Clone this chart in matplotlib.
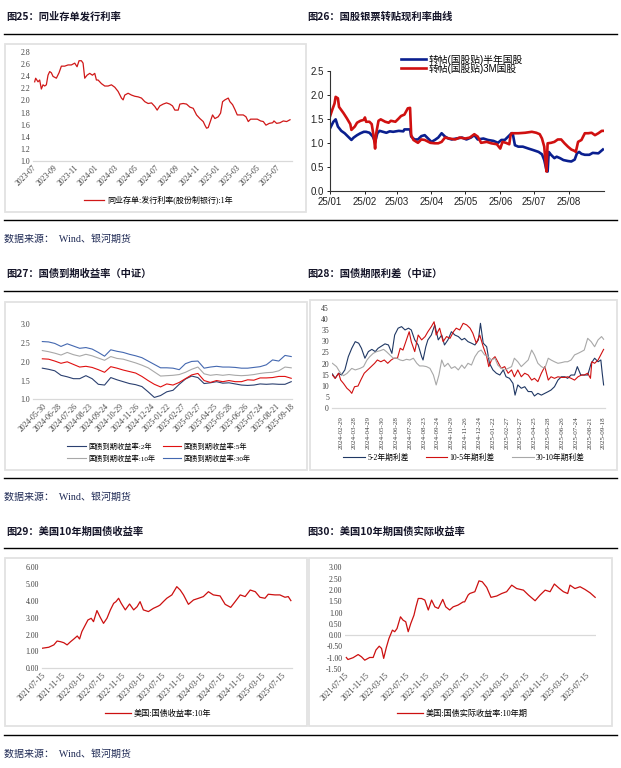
import numpy as np
import pandas as pd
import matplotlib
matplotlib.use('Agg')
import matplotlib.pyplot as plt
from matplotlib.lines import Line2D
from matplotlib.patches import Rectangle
import matplotlib.dates as mdates

W, H = 621, 768
CJK = 'Noto Sans CJK SC'
SERIF = ['Liberation Serif', CJK]
SANS = ['Liberation Sans', CJK]
plt.rcParams['font.family'] = SERIF

# ---- 图25 同业存单发行利率 (股份制银行 1年)
ncd_rate = [
    ('2023-07-06', 2.31), ('2023-07-09', 2.37), ('2023-07-16', 2.31), ('2023-07-21', 2.34),
    ('2023-07-26', 2.19), ('2023-07-31', 2.26), ('2023-08-05', 2.24), ('2023-08-10', 2.26),
    ('2023-08-15', 2.42), ('2023-08-20', 2.48), ('2023-08-25', 2.46), ('2023-08-30', 2.40),
    ('2023-09-09', 2.37), ('2023-09-17', 2.46), ('2023-09-24', 2.57), ('2023-10-04', 2.57),
    ('2023-10-14', 2.59), ('2023-10-24', 2.59), ('2023-11-03', 2.62), ('2023-11-10', 2.56),
    ('2023-11-16', 2.66), ('2023-11-23', 2.66), ('2023-11-28', 2.62), ('2023-12-03', 2.37),
    ('2023-12-10', 2.42), ('2023-12-18', 2.45), ('2023-12-26', 2.42), ('2024-01-02', 2.45),
    ('2024-01-07', 2.34), ('2024-01-12', 2.34), ('2024-01-22', 2.28), ('2024-02-01', 2.24),
    ('2024-02-11', 2.24), ('2024-02-21', 2.26), ('2024-03-02', 2.22), ('2024-03-12', 2.15),
    ('2024-03-22', 2.04), ('2024-03-27', 2.01), ('2024-04-01', 2.09), ('2024-04-11', 2.12),
    ('2024-04-21', 2.09), ('2024-05-01', 2.07), ('2024-05-11', 2.06), ('2024-05-21', 2.04),
    ('2024-05-31', 1.98), ('2024-06-10', 1.95), ('2024-06-20', 1.96), ('2024-06-30', 1.90),
    ('2024-07-07', 1.84), ('2024-07-15', 1.91), ('2024-07-25', 1.94), ('2024-08-04', 1.96),
    ('2024-08-14', 1.94), ('2024-08-22', 1.91), ('2024-08-29', 1.84), ('2024-09-08', 1.84),
    ('2024-09-13', 1.94), ('2024-09-23', 1.95), ('2024-10-03', 1.94), ('2024-10-13', 1.89),
    ('2024-10-23', 1.87), ('2024-11-02', 1.76), ('2024-11-12', 1.70), ('2024-11-22', 1.65),
    ('2024-11-27', 1.59), ('2024-12-02', 1.54), ('2024-12-07', 1.55), ('2024-12-12', 1.63),
    ('2024-12-20', 1.76), ('2024-12-27', 1.70), ('2025-01-06', 1.73), ('2025-01-13', 1.79),
    ('2025-01-19', 1.98), ('2025-01-26', 2.01), ('2025-02-05', 2.04), ('2025-02-10', 1.98),
    ('2025-02-18', 1.93), ('2025-02-25', 1.85), ('2025-03-04', 1.76), ('2025-03-12', 1.76),
    ('2025-03-22', 1.76), ('2025-03-30', 1.73), ('2025-04-06', 1.65), ('2025-04-13', 1.69),
    ('2025-04-23', 1.69), ('2025-05-03', 1.69), ('2025-05-13', 1.66), ('2025-05-21', 1.65),
    ('2025-05-29', 1.59), ('2025-06-08', 1.62), ('2025-06-18', 1.63), ('2025-06-22', 1.66),
    ('2025-06-30', 1.62), ('2025-07-10', 1.63), ('2025-07-20', 1.66), ('2025-07-30', 1.65),
    ('2025-08-09', 1.68)]

# ---- 图26 国股银票转贴现利率 (days since 2025-01-01)
disc_6m = [
    (0, 1.30), (3, 1.44), (5, 1.49), (7, 1.34), (10, 1.25), (13, 1.20), (16, 1.13), (19, 1.06),
    (21, 1.11), (24, 1.16), (27, 1.20), (30, 1.23), (32, 1.23), (35, 1.21), (38, 1.13), (40, 1.02),
    (42, 1.20), (44, 1.25), (47, 1.23), (50, 1.21), (53, 1.24), (56, 1.23), (61, 1.25), (65, 1.24),
    (66, 1.28), (71, 1.28), (72, 1.13), (75, 1.07), (78, 1.07), (81, 1.14), (84, 1.16), (87, 1.09),
    (90, 1.02), (93, 1.06), (96, 1.11), (99, 1.20), (102, 1.13), (105, 1.09), (108, 1.07), (112, 1.09),
    (117, 1.11), (121, 1.07), (125, 1.11), (128, 1.16), (131, 1.07), (136, 1.09), (140, 1.06),
    (145, 1.04), (149, 1.00), (152, 1.06), (155, 1.06), (158, 1.13), (161, 1.20), (162, 1.20),
    (164, 0.95), (167, 0.92), (171, 0.92), (176, 0.88), (180, 0.85), (185, 0.81), (188, 0.76),
    (190, 0.64), (192, 0.43), (193, 0.40), (194, 0.81), (196, 0.75), (199, 0.68), (201, 0.71),
    (204, 0.68), (207, 0.64), (211, 0.62), (214, 0.61), (217, 0.65), (219, 0.78), (221, 0.81),
    (223, 0.77), (226, 0.75), (230, 0.75), (233, 0.79), (238, 0.78), (242, 0.86)]
disc_3m = [
    (0, 1.55), (2, 1.69), (4, 1.82), (5, 1.96), (7, 1.93), (8, 1.75), (12, 1.62), (15, 1.51),
    (18, 1.39), (19, 1.27), (22, 1.34), (24, 1.42), (27, 1.46), (30, 1.48), (31, 1.53), (32, 1.44),
    (35, 1.44), (37, 1.39), (39, 1.09), (40, 0.88), (41, 1.20), (43, 1.46), (45, 1.49), (49, 1.44),
    (52, 1.42), (54, 1.46), (58, 1.44), (61, 1.51), (63, 1.56), (66, 1.59), (69, 1.72), (71, 1.73),
    (72, 1.16), (74, 1.06), (78, 1.00), (81, 1.07), (84, 1.06), (89, 1.00), (93, 0.99), (96, 0.99),
    (99, 1.02), (102, 1.11), (106, 1.09), (111, 1.07), (115, 1.11), (120, 1.09), (124, 1.11),
    (128, 1.18), (131, 1.13), (134, 1.00), (139, 1.02), (143, 0.99), (148, 0.97), (151, 0.88),
    (153, 1.02), (156, 1.00), (159, 0.97), (160, 1.14), (161, 1.20), (167, 1.20), (173, 1.21),
    (179, 1.23), (183, 1.21), (186, 1.18), (188, 1.09), (190, 0.92), (191, 0.64), (192, 0.40),
    (193, 0.99), (196, 1.00), (199, 1.02), (202, 1.07), (205, 1.07), (208, 0.99), (211, 0.92),
    (214, 0.86), (217, 0.83), (218, 0.81), (220, 1.02), (223, 1.06), (226, 1.20), (229, 1.20),
    (232, 1.21), (235, 1.16), (238, 1.20), (241, 1.25), (242, 1.25)]

# ---- 图27 国债到期收益率 (中证), every 8 trading days from 2024-05-30
ytm_2y = [1.83, 1.80, 1.76, 1.64, 1.60, 1.55, 1.55, 1.63, 1.55, 1.40, 1.38, 1.58, 1.52, 1.47,
          1.42, 1.39, 1.34, 1.20, 1.05, 1.10, 1.20, 1.24, 1.40, 1.54, 1.62, 1.58, 1.42, 1.44,
          1.47, 1.43, 1.44, 1.41, 1.38, 1.37, 1.38, 1.41, 1.40, 1.41, 1.40, 1.40, 1.47]
ytm_5y = [2.08, 2.07, 2.02, 1.96, 2.00, 1.93, 1.86, 1.88, 1.85, 1.79, 1.72, 1.87, 1.83, 1.78,
          1.74, 1.70, 1.61, 1.50, 1.40, 1.33, 1.41, 1.38, 1.45, 1.55, 1.65, 1.69, 1.50, 1.45,
          1.50, 1.47, 1.50, 1.47, 1.47, 1.52, 1.51, 1.57, 1.57, 1.58, 1.61, 1.61, 1.56]
ytm_10y = [2.30, 2.27, 2.23, 2.18, 2.25, 2.19, 2.15, 2.20, 2.16, 2.10, 2.04, 2.14, 2.09, 2.07,
           2.02, 1.97, 1.91, 1.84, 1.73, 1.62, 1.63, 1.64, 1.66, 1.72, 1.80, 1.86, 1.68, 1.64,
           1.66, 1.64, 1.66, 1.64, 1.63, 1.64, 1.66, 1.69, 1.71, 1.72, 1.76, 1.86, 1.84]
ytm_30y = [2.54, 2.53, 2.49, 2.41, 2.48, 2.42, 2.36, 2.38, 2.34, 2.25, 2.15, 2.32, 2.28, 2.25,
           2.20, 2.16, 2.11, 2.02, 1.93, 1.84, 1.84, 1.83, 1.79, 1.95, 2.01, 2.02, 1.83, 1.86,
           1.88, 1.86, 1.86, 1.85, 1.83, 1.83, 1.85, 1.87, 1.92, 2.05, 2.02, 2.17, 2.14]
ytm_labels = ['2024-05-30', '2024-06-28', '2024-07-26', '2024-08-23', '2024-09-24', '2024-10-29',
              '2024-11-26', '2024-12-24', '2025-01-22', '2025-02-27', '2025-03-27', '2025-04-25',
              '2025-05-28', '2025-06-26', '2025-07-24', '2025-08-21', '2025-09-18']

# ---- 图28 国债期限利差 (中证), (trading-day index, bp)
spread_52 = [
    (0, 15.3), (4, 13.3), (9, 15.6), (13, 14.8), (18, 17.1), (23, 23.1), (28, 26.9), (33, 29.9),
    (38, 29.2), (42, 26.9), (47, 22.4), (52, 25.4), (57, 26.4), (62, 25.4), (66, 26.9), (71, 27.9),
    (76, 28.9), (81, 28.4), (86, 24.6), (90, 32.9), (95, 36.0), (100, 36.7), (105, 35.2), (110, 36.0),
    (114, 35.2), (119, 30.7), (124, 28.4), (129, 23.1), (131, 21.6), (135, 27.6), (138, 30.7),
    (143, 32.9), (148, 37.5), (153, 30.7), (158, 32.9), (162, 28.4), (167, 30.7), (172, 34.4),
    (177, 32.9), (182, 32.2), (187, 30.7), (191, 31.4), (196, 29.9), (201, 29.2), (206, 28.4),
    (211, 30.7), (214, 38.2), (218, 29.2), (223, 27.6), (227, 20.1), (232, 17.1), (237, 15.6),
    (242, 14.8), (247, 17.1), (251, 14.0), (256, 13.3), (261, 11.0), (264, 5.7), (268, 10.3),
    (273, 8.8), (278, 9.5), (283, 7.3), (288, 7.3), (292, 5.3), (297, 6.5), (302, 5.7), (307, 6.5),
    (312, 7.3), (316, 8.0), (321, 9.5), (326, 12.5), (331, 14.0), (336, 14.0), (340, 13.3),
    (345, 14.8), (350, 14.8), (354, 18.6), (359, 14.8), (364, 14.8), (369, 14.8), (374, 20.1),
    (379, 22.4), (384, 20.8), (388, 21.6), (390, 15.6), (392, 10.3)]
spread_105 = [
    (0, 14.8), (4, 13.3), (9, 15.6), (12, 12.5), (16, 11.0), (21, 8.8), (25, 7.7), (28, 6.5),
    (32, 9.5), (37, 9.8), (41, 12.5), (46, 15.6), (51, 17.1), (56, 18.6), (61, 20.1), (65, 21.6),
    (70, 20.8), (75, 21.6), (80, 20.1), (85, 21.6), (89, 22.4), (94, 22.4), (98, 26.9), (102, 26.1),
    (107, 30.7), (111, 34.4), (114, 29.9), (119, 25.4), (124, 32.9), (129, 30.7), (134, 32.2),
    (138, 34.4), (143, 36.7), (147, 38.9), (150, 32.9), (155, 36.0), (160, 29.9), (165, 32.2),
    (170, 31.4), (175, 34.4), (179, 36.0), (184, 35.2), (189, 38.2), (194, 37.5), (199, 36.0),
    (203, 33.7), (208, 29.2), (213, 32.9), (218, 27.6), (223, 23.1), (226, 18.6), (230, 21.6),
    (235, 23.1), (239, 20.8), (244, 17.8), (249, 18.6), (254, 15.6), (259, 17.1), (263, 14.0),
    (268, 17.1), (273, 14.0), (278, 15.6), (283, 14.8), (288, 12.5), (292, 13.3), (297, 11.8),
    (302, 15.6), (307, 18.6), (312, 12.5), (316, 14.0), (321, 13.3), (326, 14.0), (331, 13.7),
    (336, 13.7), (340, 14.0), (345, 13.3), (350, 12.5), (355, 14.0), (360, 14.8), (364, 14.8),
    (369, 15.6), (373, 13.3), (375, 20.8), (379, 20.1), (384, 21.6), (389, 24.6), (392, 26.4)]
spread_3010 = [
    (0, 20.1), (6, 18.6), (11, 16.0), (16, 14.5), (21, 15.5), (28, 17.8), (33, 17.1), (40, 17.8),
    (45, 18.6), (50, 21.6), (54, 23.1), (59, 24.6), (64, 25.4), (69, 25.8), (74, 26.4), (78, 25.4),
    (83, 23.9), (88, 22.4), (93, 22.4), (98, 21.6), (102, 21.3), (107, 21.9), (112, 21.6),
    (117, 22.4), (122, 20.1), (126, 18.9), (131, 18.9), (136, 18.6), (141, 17.8), (146, 14.8),
    (150, 10.3), (154, 14.8), (158, 21.6), (162, 18.6), (167, 20.1), (172, 17.8), (177, 18.6),
    (182, 17.1), (187, 19.3), (191, 17.8), (196, 20.1), (201, 19.3), (206, 23.1), (211, 25.4),
    (215, 26.1), (220, 23.9), (225, 23.1), (230, 21.6), (235, 22.4), (239, 19.3), (244, 17.8),
    (249, 17.1), (254, 17.8), (259, 18.6), (263, 22.4), (268, 20.8), (273, 18.6), (278, 20.1),
    (283, 21.6), (288, 26.1), (292, 23.9), (297, 20.1), (302, 18.6), (307, 17.8), (312, 22.4),
    (316, 21.6), (321, 20.8), (326, 20.1), (331, 20.4), (336, 20.8), (340, 20.8), (345, 21.6),
    (350, 23.9), (355, 24.6), (360, 25.4), (364, 26.1), (369, 31.4), (374, 29.9), (379, 27.6),
    (384, 30.7), (389, 32.2), (392, 31.0)]
spread_labels = ['2024-02-29', '2024-03-28', '2024-04-29', '2024-05-30', '2024-06-28', '2024-07-26',
                 '2024-08-23', '2024-09-24', '2024-10-29', '2024-11-26', '2024-12-24', '2025-01-22',
                 '2025-02-27', '2025-03-27', '2025-04-25', '2025-05-28', '2025-06-26', '2025-07-24',
                 '2025-08-21', '2025-09-18']

# ---- 图29 美国10年期国债收益率
us10y = [
    ('2021-07-15', 1.19), ('2021-08-25', 1.25), ('2021-09-25', 1.39), ('2021-10-15', 1.62),
    ('2021-11-05', 1.58), ('2021-11-25', 1.52), ('2021-12-15', 1.39), ('2022-01-05', 1.58),
    ('2022-01-25', 1.74), ('2022-02-15', 1.92), ('2022-03-01', 1.74), ('2022-03-15', 2.18),
    ('2022-03-31', 2.48), ('2022-04-21', 2.87), ('2022-05-11', 2.97), ('2022-05-25', 2.77),
    ('2022-06-15', 3.43), ('2022-07-05', 3.03), ('2022-07-25', 2.67), ('2022-08-15', 2.97),
    ('2022-09-05', 3.47), ('2022-09-25', 3.86), ('2022-10-09', 3.96), ('2022-10-25', 4.16),
    ('2022-11-10', 3.86), ('2022-12-05', 3.47), ('2022-12-31', 3.82), ('2023-01-25', 3.47),
    ('2023-02-15', 3.66), ('2023-03-05', 3.96), ('2023-03-25', 3.47), ('2023-04-25', 3.37),
    ('2023-05-25', 3.56), ('2023-06-25', 3.70), ('2023-07-05', 3.76), ('2023-07-25', 3.96),
    ('2023-08-15', 4.16), ('2023-09-15', 4.36), ('2023-10-15', 4.85), ('2023-11-05', 4.65),
    ('2023-11-25', 4.36), ('2023-12-25', 3.80), ('2024-01-25', 4.06), ('2024-02-25', 4.16),
    ('2024-03-25', 4.26), ('2024-04-25', 4.55), ('2024-05-25', 4.36), ('2024-07-05', 4.30),
    ('2024-08-05', 3.80), ('2024-09-08', 3.62), ('2024-10-05', 3.96), ('2024-11-05', 4.36),
    ('2024-12-05', 4.26), ('2025-01-05', 4.65), ('2025-02-05', 4.55), ('2025-03-05', 4.22),
    ('2025-04-05', 4.16), ('2025-04-25', 4.40), ('2025-06-05', 4.36), ('2025-07-05', 4.36),
    ('2025-08-05', 4.22), ('2025-08-25', 4.26), ('2025-09-10', 4.02)]

# ---- 图30 美国10年期国债实际收益率
us10y_real = [
    ('2021-07-21', -0.99), ('2021-07-31', -1.08), ('2021-08-31', -1.00), ('2021-10-01', -0.86),
    ('2021-10-21', -0.96), ('2021-11-10', -1.11), ('2021-12-10', -0.99), ('2021-12-31', -0.99),
    ('2022-01-17', -0.66), ('2022-02-06', -0.49), ('2022-02-20', -0.59), ('2022-03-05', -1.03),
    ('2022-03-21', -0.55), ('2022-04-06', -0.15), ('2022-04-27', 0.22), ('2022-05-11', 0.15),
    ('2022-05-25', 0.29), ('2022-06-15', 0.81), ('2022-07-01', 0.66), ('2022-07-17', 0.59),
    ('2022-08-01', 0.15), ('2022-08-17', 0.52), ('2022-09-05', 0.88), ('2022-09-17', 1.25),
    ('2022-10-01', 1.62), ('2022-10-21', 1.62), ('2022-11-10', 1.55), ('2022-12-01', 1.11),
    ('2022-12-21', 1.55), ('2023-01-10', 1.25), ('2023-01-31', 1.18), ('2023-02-27', 1.58),
    ('2023-03-17', 1.25), ('2023-04-10', 1.11), ('2023-05-01', 1.25), ('2023-05-31', 1.33),
    ('2023-07-01', 1.47), ('2023-07-10', 1.47), ('2023-07-31', 1.77), ('2023-08-10', 1.84),
    ('2023-09-10', 1.92), ('2023-10-05', 2.40), ('2023-10-25', 2.36), ('2023-11-21', 2.11),
    ('2023-12-17', 1.67), ('2024-01-21', 1.73), ('2024-02-20', 1.84), ('2024-03-21', 1.92),
    ('2024-04-21', 2.21), ('2024-05-21', 2.06), ('2024-07-01', 1.99), ('2024-08-01', 1.77),
    ('2024-09-10', 1.52), ('2024-10-10', 1.77), ('2024-11-10', 1.99), ('2024-12-10', 1.92),
    ('2025-01-05', 2.26), ('2025-02-05', 2.06), ('2025-03-01', 1.92), ('2025-03-27', 1.84),
    ('2025-04-10', 2.21), ('2025-05-10', 2.06), ('2025-06-10', 2.14), ('2025-07-10', 2.02),
    ('2025-08-10', 1.87), ('2025-09-10', 1.67)]


def rect(x0, y0, x1, y1):
    return [x0 / W, 1 - y1 / H, (x1 - x0) / W, (y1 - y0) / H]


def fx(x):
    return x / W


def fy(y):
    return 1 - y / H


def dates_vals(pairs):
    d = pd.to_datetime([p[0] for p in pairs])
    v = [p[1] for p in pairs]
    return d, v


def xy(pairs):
    return [p[0] for p in pairs], [p[1] for p in pairs]


def plain(ax, size=5.6):
    for s in ['top', 'right', 'left']:
        ax.spines[s].set_visible(False)
    ax.spines['bottom'].set_color('#D9D9D9')
    ax.spines['bottom'].set_linewidth(0.9)
    ax.tick_params(length=0, labelsize=size, colors='#404040', pad=2)


def legend(ax, handles, labels, cx, cy, size=5.6, ncol=1, hl=2.6, **kw):
    ax.legend(handles, labels, loc='center', bbox_to_anchor=(fx(cx), fy(cy)),
              bbox_transform=fig.transFigure, frameon=False, fontsize=size, ncol=ncol,
              handlelength=hl, handletextpad=0.3, borderaxespad=0, **kw)


fig = plt.figure(figsize=(W / 100, H / 100), dpi=100)

# page frame: boxes, rules, titles, sources
for (x0, y0, x1, y1) in [(5, 44, 306, 212), (5, 302, 307, 470), (310, 300, 617, 470),
                         (5, 558, 307, 726), (309, 558, 612, 726)]:
    fig.add_artist(Rectangle((fx(x0), fy(y1)), (x1 - x0) / W, (y1 - y0) / H,
                             transform=fig.transFigure, fill=False,
                             edgecolor='#E2E2E2', lw=1.3))
for y in [34, 220, 291, 478, 548, 735]:
    fig.add_artist(Line2D([fx(4), fx(617)], [fy(y), fy(y)], transform=fig.transFigure,
                          color='black', lw=1.0))
titles = [(6, 17, '图25：同业存单发行利率'), (307, 17, '图26：国股银票转贴现利率曲线'),
          (6, 274, '图27：国债到期收益率（中证）'), (307, 274, '图28：国债期限利差（中证）'),
          (6, 532, '图29：美国10年期国债收益率'), (307, 532, '图30：美国10年期国债实际收益率')]
for x, y, t in titles:
    fig.text(fx(x), fy(y), t, fontfamily=[CJK], fontweight='bold', fontsize=7.4,
             va='center', ha='left', color='#141428')
for y in [239, 497, 754]:
    fig.text(fx(4), fy(y), '数据来源：  Wind、银河期货', fontfamily=SERIF, fontsize=7.2,
             va='center', ha='left', color='#1F2A55')

# ---- chart 25
ax1 = fig.add_axes(rect(33, 52.3, 292, 160.7))
d, v = dates_vals(ncd_rate)
l1, = ax1.plot(d, v, color='#D01818', lw=0.9)
ax1.set_ylim(1.0, 2.8)
ax1.set_yticks(np.arange(1.0, 2.81, 0.2))
ax1.yaxis.set_major_formatter(plt.FormatStrFormatter('%.1f'))
ax1.set_xlim(pd.Timestamp('2023-07-01'), pd.Timestamp('2025-08-15'))
ax1.set_xticks(pd.date_range('2023-07-01', '2025-07-01', freq='2MS'))
ax1.xaxis.set_major_formatter(mdates.DateFormatter('%Y-%m'))
plain(ax1, 5.6)
plt.setp(ax1.get_xticklabels(), rotation=45, ha='right', va='top', rotation_mode='anchor')
legend(ax1, [l1], ['同业存单:发行利率(股份制银行):1年'], 158, 200, size=5.8)

# ---- chart 26
ax2 = fig.add_axes(rect(330, 71, 604, 190.7))
base = pd.Timestamp('2025-01-01')
dx, dv = xy(disc_6m)
l2a, = ax2.plot(base + pd.to_timedelta(dx, unit='D'), dv, color='#0A1F8F', lw=1.9)
dx, dv = xy(disc_3m)
l2b, = ax2.plot(base + pd.to_timedelta(dx, unit='D'), dv, color='#D01010', lw=1.9)
ax2.set_ylim(0, 2.5)
ax2.set_yticks(np.arange(0, 2.51, 0.5))
ax2.yaxis.set_major_formatter(plt.FormatStrFormatter('%.1f'))
ax2.set_xlim(base, pd.Timestamp('2025-09-01'))
ax2.set_xticks(pd.date_range('2025-01-01', '2025-08-01', freq='MS'))
ax2.xaxis.set_major_formatter(mdates.DateFormatter('%y/%m'))
for s in ['top', 'right']:
    ax2.spines[s].set_visible(False)
for s in ['left', 'bottom']:
    ax2.spines[s].set_color('#333333')
    ax2.spines[s].set_linewidth(0.8)
ax2.tick_params(length=2.5, width=0.7, labelsize=7, colors='#222222', pad=2)
for lab in ax2.get_xticklabels() + ax2.get_yticklabels():
    lab.set_fontfamily(SANS)
ax2.legend([l2a, l2b], ['转帖(国股贴)半年国股', '转帖(国股贴)3M国股'], loc='center',
           bbox_to_anchor=(fx(462), fy(64)), bbox_transform=fig.transFigure, frameon=False,
           prop={'family': SANS, 'size': 7}, handlelength=2.6, handletextpad=0.3,
           labelspacing=-0.1, borderaxespad=0)

# ---- chart 27
ax3 = fig.add_axes(rect(33, 324.3, 292, 399.3))
idx3 = np.arange(len(ytm_2y)) * 8
l3a, = ax3.plot(idx3, ytm_2y, color='#2B4070', lw=0.8)
l3b, = ax3.plot(idx3, ytm_5y, color='#E01010', lw=0.8)
l3c, = ax3.plot(idx3, ytm_10y, color='#A8A8A8', lw=0.8)
l3d, = ax3.plot(idx3, ytm_30y, color='#4468B0', lw=0.8)
ax3.set_ylim(1.0, 3.0)
ax3.set_yticks(np.arange(1.0, 3.01, 0.5))
ax3.yaxis.set_major_formatter(plt.FormatStrFormatter('%.1f'))
ax3.set_xlim(-12, 321)
ax3.set_xticks(np.arange(len(ytm_labels)) * 20)
ax3.set_xticklabels(ytm_labels)
plain(ax3, 5.6)
plt.setp(ax3.get_xticklabels(), rotation=45, ha='right', va='top', rotation_mode='anchor')
legend(ax3, [l3a, l3c, l3b, l3d],
       ['国债到期收益率:2年', '国债到期收益率:10年', '国债到期收益率:5年', '国债到期收益率:30年'],
       159, 452, size=5.2, ncol=2, columnspacing=1.0, labelspacing=0.6)

# ---- chart 28
ax4 = fig.add_axes(rect(331.7, 308.3, 605, 407.7))
sx, sv = xy(spread_52)
l4a, = ax4.plot(sx, sv, color='#203864', lw=0.8)
sx, sv = xy(spread_105)
l4b, = ax4.plot(sx, sv, color='#D01010', lw=0.8)
sx, sv = xy(spread_3010)
l4c, = ax4.plot(sx, sv, color='#A8A8A8', lw=0.8)
ax4.set_ylim(0, 45)
ax4.set_yticks(np.arange(0, 46, 5))
ax4.set_xlim(-1, 394)
ax4.set_xticks(12 + np.arange(len(spread_labels)) * 20)
ax4.set_xticklabels(spread_labels)
plain(ax4, 5.6)
plt.setp(ax4.get_xticklabels(), rotation=90, fontsize=5.0)
ax4.tick_params(axis='x', pad=6)
legend(ax4, [l4a, l4b, l4c], ['5-2年期利差', '10-5年期利差', '30-10年期利差'], 464, 458,
       size=5.6, ncol=3, hl=2.8, columnspacing=2.2)

# ---- chart 29 / 30 share the 4-monthly date ticks
us_ticks = pd.date_range('2021-07-01', '2025-07-01', freq='4MS') + pd.Timedelta(days=14)

ax5 = fig.add_axes(rect(41.7, 567.3, 291.7, 668.3))
d, v = dates_vals(us10y)
l5, = ax5.plot(d, v, color='#CC1010', lw=0.9)
ax5.set_ylim(0, 6)
ax5.set_yticks(np.arange(0, 6.01, 1))
ax5.yaxis.set_major_formatter(plt.FormatStrFormatter('%.2f'))
ax5.set_xlim(pd.Timestamp('2021-07-13'), pd.Timestamp('2025-09-15'))
ax5.set_xticks(us_ticks)
ax5.xaxis.set_major_formatter(mdates.DateFormatter('%Y-%m-%d'))
plain(ax5, 5.6)
plt.setp(ax5.get_xticklabels(), rotation=45, ha='right', va='top', rotation_mode='anchor')
legend(ax5, [l5], ['美国:国债收益率:10年'], 158, 714, size=5.9, hl=3.2)

ax6 = fig.add_axes(rect(345, 567.3, 596, 669))
d, v = dates_vals(us10y_real)
l6, = ax6.plot(d, v, color='#CC1010', lw=0.9)
ax6.axhline(0, color='#D9D9D9', lw=0.9, zorder=0)
ax6.set_ylim(-1.5, 3.0)
ax6.set_yticks(np.arange(-1.5, 3.01, 0.5))
ax6.yaxis.set_major_formatter(plt.FormatStrFormatter('%.2f'))
ax6.set_xlim(pd.Timestamp('2021-07-13'), pd.Timestamp('2025-09-15'))
ax6.set_xticks(us_ticks)
ax6.xaxis.set_major_formatter(mdates.DateFormatter('%Y-%m-%d'))
plain(ax6, 5.6)
ax6.spines['bottom'].set_visible(False)
plt.setp(ax6.get_xticklabels(), rotation=45, ha='right', va='top', rotation_mode='anchor')
legend(ax6, [l6], ['美国:国债实际收益率:10年期'], 462, 714, size=5.9, hl=3.2)

fig.savefig('out.png', dpi=100, facecolor='white')
